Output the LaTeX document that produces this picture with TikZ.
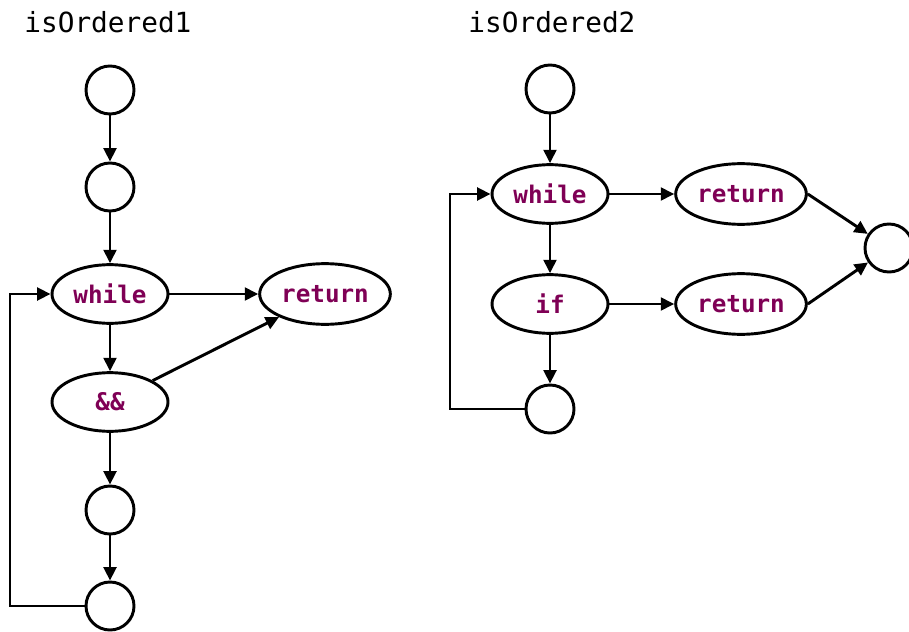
\documentclass[tikz,border=0pt]{standalone}
\usepackage{fontspec}
\newfontfamily\monofont{DejaVu Sans Mono}
\usetikzlibrary{shapes.geometric,arrows.meta}
\definecolor{kw}{RGB}{127,0,85}
\newcommand{\titlefont}{\monofont\fontsize{20.8}{24}\selectfont}
\newcommand{\kwfont}{\monofont\bfseries\fontsize{18.2}{21}\selectfont}
\begin{document}
\begin{tikzpicture}[x=0.75pt,y=-0.75pt,line width=2.2pt,
  circ/.style={circle,draw,minimum size=36pt,inner sep=0pt},
  ell/.style={ellipse,draw,minimum width=87pt,minimum height=44pt,inner sep=0pt,font=\kwfont,text=kw},
  ret/.style={ell,minimum width=98pt,minimum height=45.5pt},
  arr/.style={-{Triangle[length=10pt,width=9.5pt]}},
  title/.style={anchor=base west,font=\titlefont,inner sep=0pt}]
\useasboundingbox (0,0) rectangle (909,631);

% titles
\node[title] (t1) at (23,33) {isOrdered1};
\node[title] (t2) at (467,33) {isOrdered2};

% left graph
\node[circ] (c1) at (110,90) {};
\node[circ] (c2) at (110,187) {};
\node[ell] (w1) at (110,294) {while};
\node[ret] (r1) at (325,294) {return};
\node[ell] (a1) at (110,402) {\&\&};
\node[circ] (c3) at (110,510) {};
\node[circ] (c4) at (110,606) {};
\coordinate (l1) at (10,606);

\draw[arr] (c1) -- (c2);
\draw[arr] (c2) -- (w1);
\draw[arr] (w1) -- (r1);
\draw[arr] (w1) -- (a1);
\draw[arr] (a1) -- (r1);
\draw[arr] (a1) -- (c3);
\draw[arr] (c3) -- (c4);
\draw[arr] (c4.west) -- (l1) |- (w1.west);

% right graph
\node[circ] (c5) at (550,89) {};
\node[ell] (w2) at (550,194) {while};
\node[ret] (r2) at (741,194) {return};
\node[ell] (if) at (550,304) {if};
\node[ret] (r3) at (741,304) {return};
\node[circ] (c7) at (550,409) {};
\node[circ] (c6) at (889,248) {};
\coordinate (l2) at (450,409);

\draw[arr] (c5) -- (w2);
\draw[arr] (w2) -- (r2);
\draw[arr] (w2) -- (if);
\draw[arr] (if) -- (r3);
\draw[arr] (if) -- (c7);
\draw[arr] (r2.east) -- (c6);
\draw[arr] (r3.east) -- (c6);
\draw[arr] (c7.west) -- (l2) |- (w2.west);
\end{tikzpicture}
\end{document}
